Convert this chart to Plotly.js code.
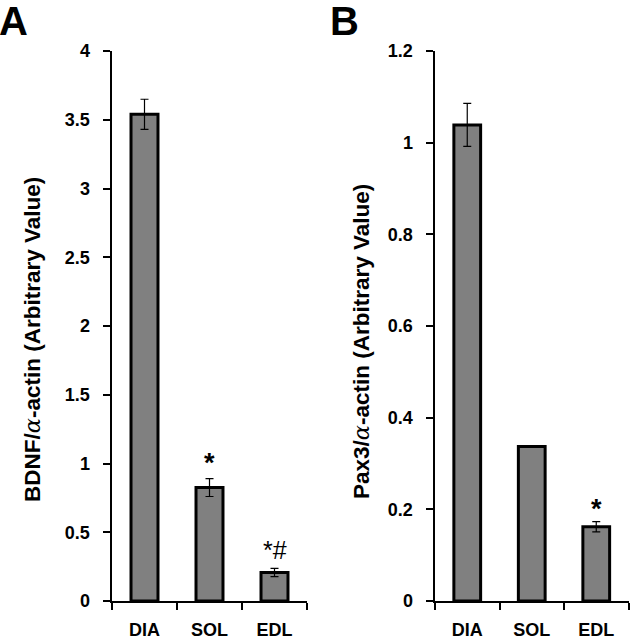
<!DOCTYPE html>
<html>
<head>
<meta charset="utf-8">
<script src="https://cdn.plot.ly/plotly-3.0.1.min.js"></script>
<style>html,body{margin:0;padding:0;background:#fff;}</style>
</head>
<body>
<div id="chart" style="width:630px;height:639px;"></div>
<script>
// ---- data ----
const categories = ['DIA', 'SOL', 'EDL'];
const bdnfValues = [3.54, 0.825, 0.207];
const bdnfErrors = [0.11, 0.065, 0.03];
const bdnfMarks = ['', '*', '*#'];
const pax3Values = [1.039, 0.337, 0.162];
const pax3Errors = [0.047, null, 0.011];
const pax3Marks = ['', '', '*'];
const bdnfTicks = [0, 0.5, 1, 1.5, 2, 2.5, 3, 3.5, 4];
const pax3Ticks = [0, 0.2, 0.4, 0.6, 0.8, 1, 1.2];

const FONT = 'Liberation Sans, Arial, sans-serif';
const tickFont = {family: FONT, size: 18, color: '#000', weight: 700};
const barFill = '#808080';

function barTrace(vals, errs, xa, ya) {
  return {
    type: 'bar', x: categories, y: vals, xaxis: xa, yaxis: ya,
    marker: {color: barFill, line: {color: '#000', width: 3}},
    error_y: {type: 'data', array: errs, visible: true, color: '#000', thickness: 1.2, width: 4},
    hoverinfo: 'skip', showlegend: false
  };
}

const data = [
  barTrace(bdnfValues, bdnfErrors, 'x', 'y'),
  barTrace(pax3Values, pax3Errors, 'x2', 'y2')
];

function xAxis(domain, anchor) {
  return {
    domain: domain, anchor: anchor, type: 'category', range: [-0.5, 2.5],
    showline: true, linecolor: '#000', linewidth: 2.5,
    ticks: 'outside', tickson: 'boundaries', ticklen: 7, tickwidth: 2, tickcolor: '#000',
    tickfont: tickFont, showgrid: false, zeroline: false, fixedrange: true,
    ticklabelstandoff: 11
  };
}
function yAxis(domain, anchor, range, ticks) {
  return {
    domain: domain, anchor: anchor, range: range, tickmode: 'array', tickvals: ticks,
    showline: true, linecolor: '#000', linewidth: 2.5,
    ticks: 'outside', ticklen: 7, tickwidth: 2, tickcolor: '#000',
    tickfont: tickFont, showgrid: false, zeroline: false, fixedrange: true,
    ticklabelstandoff: 9
  };
}

const yDom = [0.0595, 0.920];
const annotations = [];
function sigMarks(marks, vals, errs, xref, yref, shifts) {
  marks.forEach((m, i) => {
    if (!m) return;
    const single = m === '*';
    annotations.push({
      xref: xref, yref: yref, x: categories[i], y: vals[i] + (errs[i] || 0),
      text: m, showarrow: false, yanchor: 'bottom', yshift: shifts[i],
      font: {family: FONT, size: single ? 27 : 25, color: '#000', weight: single ? 700 : 400}
    });
  });
}
sigMarks(bdnfMarks, bdnfValues, bdnfErrors, 'x', 'y', [0, -1, 2]);
sigMarks(pax3Marks, pax3Values, pax3Errors, 'x2', 'y2', [0, 0, -4]);

const alpha = '<span style="font-family:\'DejaVu Serif\',serif;font-style:italic;font-weight:normal">α</span>';
annotations.push({
  xref: 'paper', yref: 'paper', x: 32 / 630, y: 1 - 340 / 639,
  text: 'BDNF/' + alpha + '-actin (Arbitrary Value)', textangle: -90, showarrow: false,
  xanchor: 'center', yanchor: 'middle',
  font: {family: FONT, size: 22.5, color: '#000', weight: 700}
});
annotations.push({
  xref: 'paper', yref: 'paper', x: 361 / 630, y: 1 - 342 / 639,
  text: 'Pax3/' + alpha + '-actin (Arbitrary Value)', textangle: -90, showarrow: false,
  xanchor: 'center', yanchor: 'middle',
  font: {family: FONT, size: 22.5, color: '#000', weight: 700}
});
annotations.push({
  xref: 'paper', yref: 'paper', x: -3 / 630, y: 1 + 3 / 639, xanchor: 'left', yanchor: 'top',
  text: 'A', showarrow: false, font: {family: FONT, size: 40, color: '#000', weight: 700}
});
annotations.push({
  xref: 'paper', yref: 'paper', x: 328 / 630, y: 1 + 3 / 639, xanchor: 'left', yanchor: 'top',
  text: 'B', showarrow: false, font: {family: FONT, size: 40, color: '#000', weight: 700}
});

const layout = {
  width: 630, height: 639,
  margin: {l: 0, r: 0, t: 0, b: 0},
  paper_bgcolor: '#fff', plot_bgcolor: '#fff',
  bargap: 0.585,
  xaxis: xAxis([112 / 630, 307 / 630], 'y'),
  yaxis: yAxis(yDom, 'x', [0, 4], bdnfTicks),
  xaxis2: xAxis([435 / 630, 628.5 / 630], 'y2'),
  yaxis2: yAxis(yDom, 'x2', [0, 1.2], pax3Ticks),
  annotations: annotations,
  font: {family: FONT}
};

Plotly.newPlot('chart', data, layout, {displayModeBar: false, staticPlot: true});
</script>
</body>
</html>
